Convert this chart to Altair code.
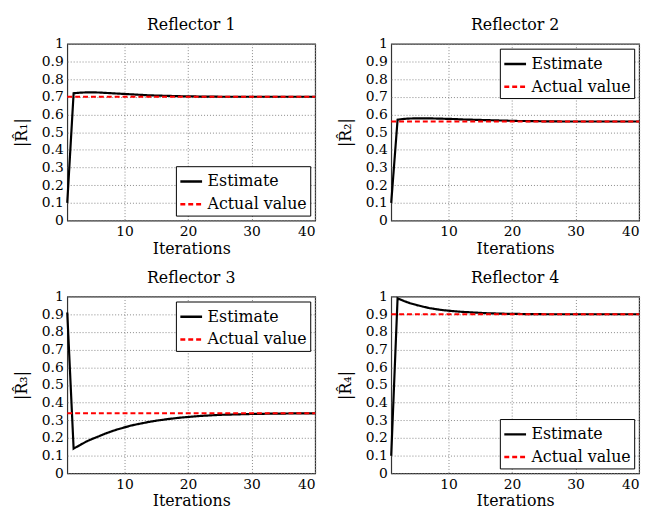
import altair as alt
import pandas as pd

iterations = list(range(1, 41))

est_r1 = [0.10, 0.720, 0.723, 0.725, 0.725, 0.724, 0.722, 0.720, 0.718, 0.716,
          0.714, 0.712, 0.710, 0.708, 0.707, 0.706, 0.705, 0.704, 0.703, 0.702,
          0.702, 0.701, 0.701, 0.701, 0.700, 0.700, 0.700, 0.700, 0.700, 0.700,
          0.700, 0.700, 0.700, 0.700, 0.700, 0.700, 0.700, 0.700, 0.700, 0.700]
est_r2 = [0.10, 0.570, 0.575, 0.577, 0.578, 0.578, 0.578, 0.577, 0.576, 0.575,
          0.574, 0.572, 0.571, 0.570, 0.569, 0.568, 0.567, 0.566, 0.565, 0.564,
          0.563, 0.563, 0.562, 0.562, 0.561, 0.561, 0.561, 0.560, 0.560, 0.560,
          0.560, 0.560, 0.560, 0.560, 0.560, 0.560, 0.560, 0.560, 0.560, 0.560]
est_r3 = [0.91, 0.140, 0.160, 0.180, 0.196, 0.210, 0.225, 0.238, 0.250, 0.260,
          0.270, 0.278, 0.285, 0.292, 0.298, 0.303, 0.308, 0.312, 0.316, 0.319,
          0.322, 0.325, 0.327, 0.329, 0.331, 0.332, 0.333, 0.334, 0.335, 0.336,
          0.337, 0.337, 0.338, 0.338, 0.338, 0.339, 0.339, 0.339, 0.339, 0.340]
est_r4 = [0.10, 0.990, 0.975, 0.962, 0.952, 0.943, 0.935, 0.929, 0.924, 0.920,
          0.917, 0.914, 0.912, 0.910, 0.908, 0.906, 0.905, 0.904, 0.903, 0.902,
          0.902, 0.901, 0.901, 0.901, 0.900, 0.900, 0.900, 0.900, 0.900, 0.900,
          0.900, 0.900, 0.900, 0.900, 0.900, 0.900, 0.900, 0.900, 0.900, 0.900]
actual_values = [0.70, 0.56, 0.34, 0.90]
estimates = [est_r1, est_r2, est_r3, est_r4]
titles = ["Reflector 1", "Reflector 2", "Reflector 3", "Reflector 4"]
ylabels = ["|R\u0302\u2081|", "|R\u0302\u2082|", "|R\u0302\u2083|", "|R\u0302\u2084|"]
legend_pos = ["bottom-right", "top-right", "top-right", "bottom-right"]
series_names = ["Estimate", "Actual value"]
y_ticks = [0, 0.1, 0.2, 0.3, 0.4, 0.5, 0.6, 0.7, 0.8, 0.9, 1]
x_ticks = [10, 20, 30, 40]

FONT = "DejaVu Serif"


def panel(i):
    rows = []
    for x, v in zip(iterations, estimates[i]):
        rows.append({"it": x, "val": v, "series": "Estimate", "ord": 0})
    for x in iterations:
        rows.append({"it": x, "val": actual_values[i], "series": "Actual value", "ord": 1})
    df = pd.DataFrame(rows)
    leg = alt.Legend(title=None, orient=legend_pos[i], offset=5,
                     strokeColor="black", fillColor="white", padding=3,
                     symbolType="stroke", symbolSize=484, symbolStrokeWidth=2.5,
                     labelFont=FONT, labelFontSize=16, rowPadding=2, labelOffset=4,
                     labelColor="black", cornerRadius=0)
    return alt.Chart(df).mark_line(strokeWidth=2.2).encode(
        x=alt.X("it:Q", scale=alt.Scale(domain=[1, 40], nice=False, zero=False),
                axis=alt.Axis(title="Iterations", values=x_ticks)),
        y=alt.Y("val:Q", scale=alt.Scale(domain=[0, 1], nice=False),
                axis=alt.Axis(title=ylabels[i], values=y_ticks, format="~g")),
        color=alt.Color("series:N", scale=alt.Scale(domain=series_names, range=["black", "red"]),
                        legend=leg),
        strokeDash=alt.StrokeDash("series:N", scale=alt.Scale(domain=series_names, range=[[1, 0], [5, 3]]),
                                  legend=leg),
        order=alt.Order("ord:Q"),
        detail="series:N",
    ).properties(width=251, height=179, title=titles[i])


row1 = alt.hconcat(panel(0), panel(1), spacing=17)
row2 = alt.hconcat(panel(2), panel(3), spacing=17)
chart = alt.vconcat(row1, row2, spacing=12).resolve_scale(
    color="independent", strokeDash="independent"
).resolve_legend(color="independent", strokeDash="independent").properties(
    background="white"
).configure_view(
    stroke="#333", strokeWidth=1.2
).configure_axis(
    labelFont=FONT, titleFont=FONT, labelFontSize=14, titleFontSize=16,
    labelColor="black", titleColor="black", titleFontWeight="normal",
    domain=False, ticks=False,
    gridColor="#888", gridDash=[1, 2], gridWidth=1,
).configure_axisY(titlePadding=4, labelPadding=4, minExtent=34).configure_axisX(
    titlePadding=2, labelPadding=4
).configure_title(
    font=FONT, fontSize=16, fontWeight="normal", color="black", offset=0
)

chart.save("out.html", embed_options={"renderer": "svg", "actions": False})
